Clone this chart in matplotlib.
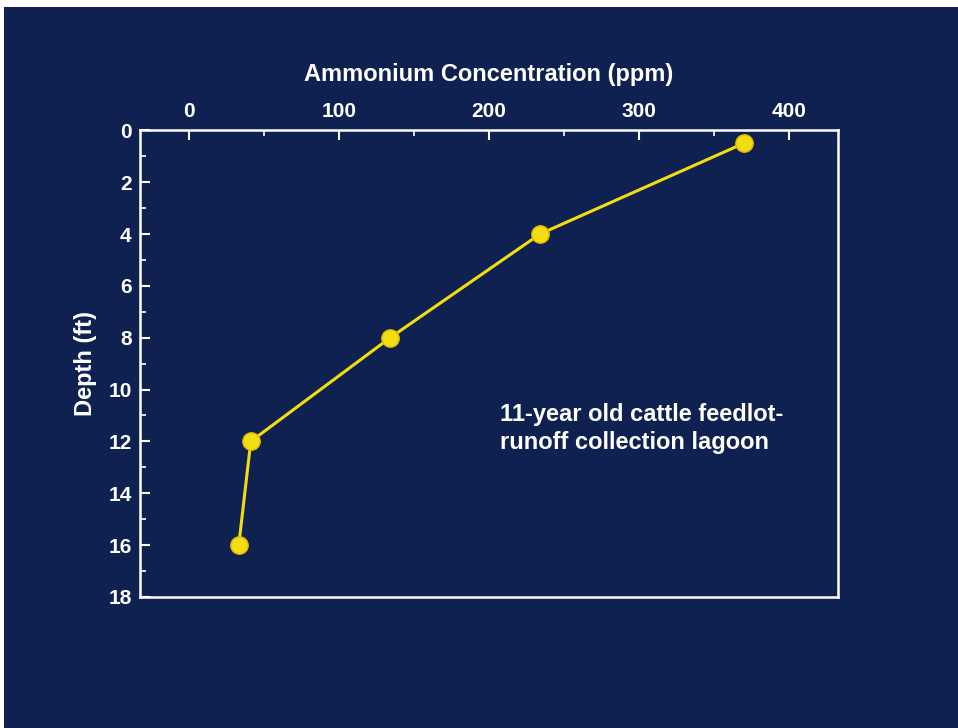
import matplotlib.pyplot as plt
from matplotlib.ticker import MultipleLocator

plt.rcParams['font.family'] = ['Liberation Sans', 'DejaVu Sans']
plt.rcParams['font.weight'] = 'bold'

# data
concentration = [370, 234, 134, 41, 33]   # ppm
depth = [0.5, 4, 8, 12, 16]               # ft

navy = '#0f2150'
yellow = '#f2dc12'

fig = plt.figure(figsize=(9.58, 7.28), dpi=100, facecolor='white')
# dark slide background (thin white strip top and left like the scan)
fig.patches.append(plt.Rectangle((0.004, 0), 0.996, 0.99, transform=fig.transFigure,
                                 facecolor=navy, edgecolor='none', zorder=-10))

ax = fig.add_axes([0.146, 0.180, 0.729, 0.641])
ax.set_facecolor(navy)

ax.plot(concentration, depth, '-', color=yellow, linewidth=2.2, zorder=3)
ax.plot(concentration, depth, 'o', color=yellow, markersize=12.5,
        markeredgecolor='#e0bc00', zorder=4)

ax.set_xlim(-33, 433)
ax.set_ylim(18, 0)
ax.xaxis.tick_top()
ax.xaxis.set_label_position('top')
ax.xaxis.set_major_locator(MultipleLocator(100))
ax.xaxis.set_minor_locator(MultipleLocator(50))
ax.yaxis.set_major_locator(MultipleLocator(2))
ax.yaxis.set_minor_locator(MultipleLocator(1))

for s in ax.spines.values():
    s.set_color('white')
    s.set_linewidth(1.8)

ax.tick_params(which='both', direction='in', colors='white', labelsize=15,
               top=True, bottom=False, left=True, right=False)
ax.tick_params(which='major', length=7, width=1.5)
ax.tick_params(which='minor', length=4, width=1.2)
ax.tick_params(axis='x', pad=7)
ax.tick_params(axis='y', pad=6)

ax.set_xlabel('Ammonium Concentration (ppm)', color='white', fontsize=17,
              fontweight='bold', labelpad=15)
ax.set_ylabel('Depth (ft)', color='white', fontsize=17, fontweight='bold',
              labelpad=8)

ax.text(207, 11.5, '11-year old cattle feedlot-\nrunoff collection lagoon',
        color='white', fontsize=17, fontweight='bold', va='center',
        ha='left', linespacing=1.25)

fig.savefig('out.png', dpi=100, facecolor=fig.get_facecolor())
